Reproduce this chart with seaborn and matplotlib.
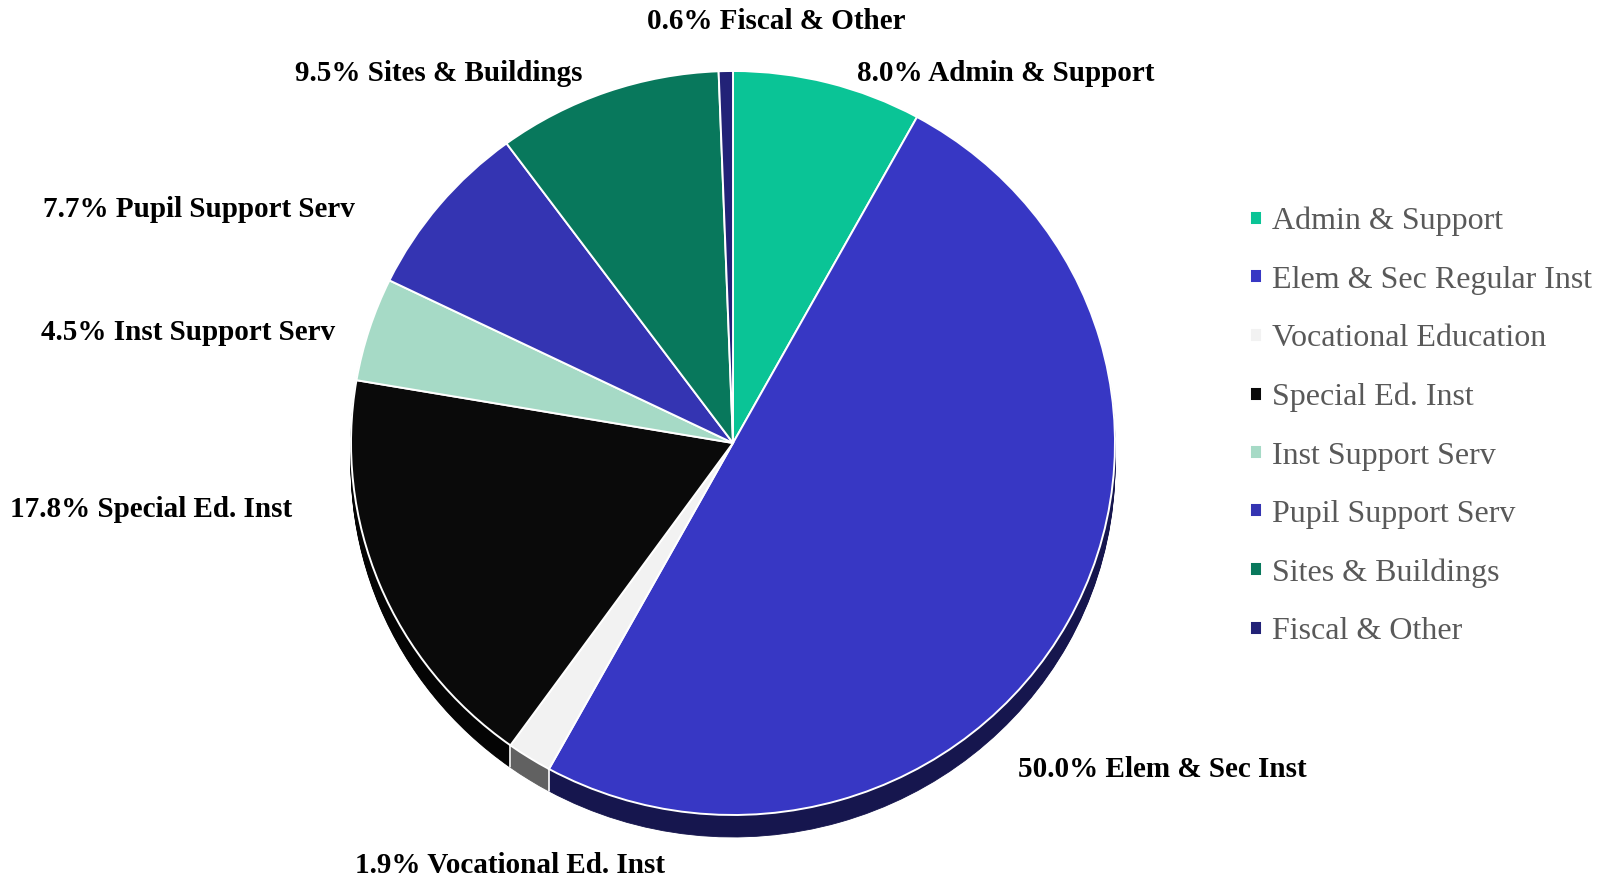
import numpy as np
import matplotlib
matplotlib.use("Agg")
import matplotlib.pyplot as plt
from matplotlib.colors import to_rgb
import seaborn as sns

# data
categories = ["Admin & Support", "Elem & Sec Inst", "Vocational Ed. Inst", "Special Ed. Inst",
              "Inst Support Serv", "Pupil Support Serv", "Sites & Buildings", "Fiscal & Other"]
legend_names = ["Admin & Support", "Elem & Sec Regular Inst", "Vocational Education", "Special Ed. Inst",
                "Inst Support Serv", "Pupil Support Serv", "Sites & Buildings", "Fiscal & Other"]
shares = [8.0, 50.0, 1.9, 17.8, 4.5, 7.7, 9.5, 0.6]
colors = ["#0ac496", "#3737c4", "#f2f2f2", "#0a0a0a", "#a6dac6", "#3434b2", "#08785c", "#222277"]

# label anchors (left x, baseline y) in pixels from top-left
label_pos = [(857, 81), (1018, 777), (355, 873), (10, 517),
             (41, 340), (43, 217), (295, 81), (647, 29)]

sns.set_theme(style="white")
plt.rcParams["font.family"] = ["Liberation Serif", "DejaVu Serif"]

W, H = 1603, 876
cx, cy = 733, 443      # pie centre in pixels
rx, ry = 382, 372      # radii in pixels
depth = 22             # extrusion depth in pixels

fig = plt.figure(figsize=(W / 100, H / 100), dpi=100)
ax = fig.add_axes([0, 0, 1, 1])

side_colors = [tuple(c * 0.4 for c in to_rgb(col)) for col in colors]

# extruded side: stack of darker pies shifted downward
for off in range(depth, 0, -1):
    ax.pie(shares, colors=side_colors, startangle=90, counterclock=False,
           center=(0, -off / ry), radius=1,
           wedgeprops=dict(linewidth=0.6, edgecolor=None))
    for w, c in zip(ax.patches[-len(shares):], side_colors):
        w.set_edgecolor(c)

# white separators on the visible side
bounds = np.cumsum([0] + shares[:-1]) / 100 * 2 * np.pi
for b in bounds:
    x, y = np.sin(b), np.cos(b)
    if y < -0.05:
        ax.plot([x, x], [y, y - depth / ry], color="white", lw=1.2, zorder=5)

# top surface
top, _ = ax.pie(shares, colors=colors, startangle=90, counterclock=False,
                center=(0, 0), radius=1,
                wedgeprops=dict(linewidth=1.4, edgecolor="white"))
for w in top:
    w.set_zorder(6)

ax.set_aspect("auto")
ax.set_xlim(-cx / rx, (W - cx) / rx)
ax.set_ylim(-(H - cy) / ry, cy / ry)
ax.axis("off")

# slice labels
for name, val, (px, py) in zip(categories, shares, label_pos):
    fig.text(px / W, 1 - py / H, f"{val:.1f}% {name}", ha="left", va="baseline",
             fontsize=21, fontweight="bold", color="black")

ax.legend(top, legend_names, loc="upper left",
          bbox_to_anchor=(1250 / W, 1 - 207 / H), bbox_transform=fig.transFigure,
          frameon=False, fontsize=23, labelcolor="#595959",
          handlelength=0.36, handleheight=0.3, handletextpad=0.34,
          labelspacing=0.92, borderpad=0, borderaxespad=0)

fig.savefig("out.png", dpi=100)
